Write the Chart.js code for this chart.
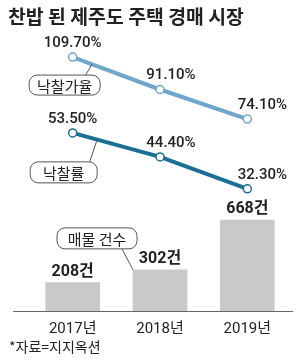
<!DOCTYPE html>
<html>
<head>
<meta charset="utf-8">
<script src="https://cdn.jsdelivr.net/npm/chart.js"></script>
<style>
  html, body { margin: 0; padding: 0; background: #fff; }
  #wrap { position: relative; width: 300px; height: 360px; }
  #chart { position: absolute; left: 0; top: 0; }
  .txt { position: absolute; white-space: nowrap; transform-origin: left top; color: #222;
         font-family: 'Noto Sans CJK KR', 'Liberation Sans', sans-serif; }
  #title { left: 8px; top: 5px; font-size: 19px; font-weight: bold; line-height: 22px; transform: scaleX(1.02); }
  #source { left: 9px; top: 338px; font-size: 14px; line-height: 17px; }
</style>
</head>
<body>
<div id="wrap">
  <canvas id="chart" width="300" height="360"></canvas>
  <div id="title" class="txt">찬밥 된 제주도 주택 경매 시장</div>
  <div id="source" class="txt">*자료=지지옥션</div>
</div>
<script>
const years = ['2017년', '2018년', '2019년'];
const bidPriceRatio = [109.7, 91.1, 74.1];   // 낙찰가율 (%)
const bidSuccessRate = [53.5, 44.4, 32.3];   // 낙찰률 (%)
const listings = [208, 302, 668];            // 매물 건수

const FONT = "Roboto, 'Noto Sans CJK KR', sans-serif";
const lightBlue = '#6fa6cc';
const darkBlue = '#1b6f96';

function roundBox(ctx, cx, cy, w, h, r) {
    const x = cx - w / 2, y = cy - h / 2;
    ctx.beginPath();
    ctx.moveTo(x + r, y);
    ctx.arcTo(x + w, y, x + w, y + h, r);
    ctx.arcTo(x + w, y + h, x, y + h, r);
    ctx.arcTo(x, y + h, x, y, r);
    ctx.arcTo(x, y, x + w, y, r);
    ctx.closePath();
}

// rounded label box with a short leader line
function callout(ctx, text, cx, cy, w, h, from, to) {
    ctx.strokeStyle = '#555';
    ctx.lineWidth = 1;
    ctx.beginPath();
    ctx.moveTo(from.x, from.y);
    ctx.lineTo(to.x, to.y);
    ctx.stroke();
    roundBox(ctx, cx, cy, w, h, 8);
    ctx.fillStyle = '#fff';
    ctx.fill();
    ctx.stroke();
    ctx.fillStyle = '#222';
    ctx.font = "15px 'Noto Sans CJK KR', sans-serif";
    ctx.textAlign = 'center';
    ctx.textBaseline = 'middle';
    ctx.fillText(text, cx, cy + 1);
}

const baselinePlugin = {
    id: 'baseline',
    beforeDatasetsDraw(chart) {
        const { ctx, chartArea } = chart;
        ctx.save();
        ctx.strokeStyle = '#666';
        ctx.lineWidth = 1.2;
        ctx.beginPath();
        ctx.moveTo(chartArea.left - 16, chartArea.bottom + 0.5);
        ctx.lineTo(chartArea.right + 2, chartArea.bottom + 0.5);
        ctx.stroke();
        ctx.restore();
    }
};

const labelPlugin = {
    id: 'valueLabels',
    afterDatasetsDraw(chart) {
        const ctx = chart.ctx;
        ctx.save();
        ctx.textAlign = 'center';
        ctx.textBaseline = 'middle';
        ctx.fillStyle = '#222';

        // bar values
        ctx.font = 'bold 16px ' + FONT;
        const bars = chart.getDatasetMeta(0).data;
        bars.forEach((bar, i) => {
            ctx.fillText(listings[i] + '건', bar.x, bar.y - 11);
        });

        // line values
        const dx = [0, 11, 15];
        ctx.font = '500 15px ' + FONT;
        [[1, bidPriceRatio], [2, bidSuccessRate]].forEach(([idx, values]) => {
            chart.getDatasetMeta(idx).data.forEach((pt, i) => {
                ctx.fillText(values[i].toFixed(2) + '%', pt.x + dx[i], pt.y - 14);
            });
        });

        // callouts
        const l1 = chart.getDatasetMeta(1).data;
        let a = { x: l1[0].x + (l1[1].x - l1[0].x) * 0.22, y: l1[0].y + (l1[1].y - l1[0].y) * 0.22 };
        let c = { x: l1[0].x - 8, y: l1[0].y + 28 };
        callout(ctx, '낙찰가율', c.x, c.y, 71, 20, a, { x: c.x + 21, y: c.y - 10 });

        const l2 = chart.getDatasetMeta(2).data;
        a = { x: l2[0].x + (l2[1].x - l2[0].x) * 0.28, y: l2[0].y + (l2[1].y - l2[0].y) * 0.28 };
        c = { x: l2[0].x - 9, y: l2[0].y + 39.5 };
        callout(ctx, '낙찰률', c.x, c.y, 67, 21, a, { x: c.x + 26, y: c.y - 10.5 });

        const b = bars[1];
        c = { x: b.x - 63, y: b.y - 31.5 };
        callout(ctx, '매물 건수', c.x, c.y, 80, 21,
            { x: b.x - b.width / 2, y: b.y }, { x: c.x + 25, y: c.y + 10.5 });

        ctx.restore();
    }
};

new Chart(document.getElementById('chart'), {
    data: {
        labels: years,
        datasets: [
            {
                type: 'bar',
                data: listings,
                backgroundColor: '#c9c9c9',
                barThickness: 54,
                yAxisID: 'yBar'
            },
            {
                type: 'line',
                data: bidPriceRatio,
                borderColor: lightBlue,
                borderWidth: 4,
                pointRadius: 4,
                pointBorderWidth: 1.5,
                pointBackgroundColor: '#fff',
                pointBorderColor: lightBlue,
                yAxisID: 'yRatio'
            },
            {
                type: 'line',
                data: bidSuccessRate,
                borderColor: darkBlue,
                borderWidth: 4,
                pointRadius: 4,
                pointBorderWidth: 1.5,
                pointBackgroundColor: '#fff',
                pointBorderColor: darkBlue,
                yAxisID: 'yRate'
            }
        ]
    },
    options: {
        responsive: false,
        animation: false,
        layout: { padding: { top: 40, left: 29, right: 9, bottom: 0 } },
        plugins: {
            legend: { display: false },
            tooltip: { enabled: false }
        },
        scales: {
            x: {
                offset: true,
                grid: { display: false },
                border: { display: false },
                afterFit(scale) { scale.height = 49; },   // fixed room under the bars
                ticks: {
                    color: '#222',
                    padding: 1,
                    font: { family: FONT, size: 15 }
                }
            },
            yBar: { display: false, min: 0, max: 1990 },
            yRatio: { display: false, min: -36, max: 119.5 },
            yRate: { display: false, min: -14, max: 88.7 }
        }
    },
    plugins: [baselinePlugin, labelPlugin]
});
</script>
</body>
</html>
